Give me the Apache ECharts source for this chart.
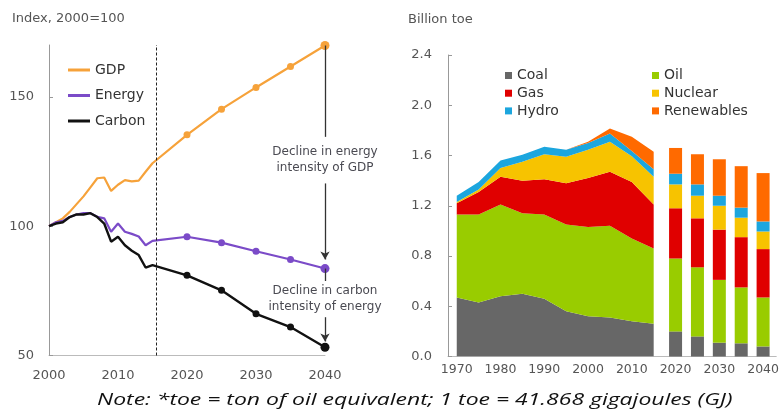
<!DOCTYPE html>
<html>
<head>
<meta charset="utf-8">
<script src="https://cdn.jsdelivr.net/npm/echarts@6/dist/echarts.min.js"></script>
<style>html,body{margin:0;padding:0;background:#fff;}#c{width:782px;height:414px;}</style>
</head>
<body>
<div id="c"></div>
<script>
// ---------- Left chart data (Index, 2000=100) ----------
const leftYears = [2000,2001,2002,2003,2004,2005,2006,2007,2008,2009,2010,2011,2012,2013,2014,2015,2020,2025,2030,2035,2040];
const gdp    = [100,101.5,103,105.5,108.5,111.5,115,118.5,118.8,113.6,116,117.8,117.3,117.6,121,124.3,135.3,145.2,153.6,161.7,169.8];
const energy = [100,101.5,102,103.5,104.5,105,105,103.6,103,97.8,101,97.8,97,96,92.6,94.3,95.9,93.6,90.3,87.1,83.6];
const carbon = [100,101,101.5,103.5,104.5,104.5,105,103.5,101,94,95.9,92.6,90.5,88.8,84,84.9,81,75.2,66.1,61,53.2];
const leftTicksY = [50,100,150];
const lineNames = ['GDP','Energy','Carbon'];
const annEnergyText = 'Decline in energy\nintensity of GDP';
const annCarbonText = 'Decline in carbon\nintensity of energy';

// ---------- Right chart data (Billion toe) ----------
const histYears = [1970,1975,1980,1985,1990,1995,2000,2005,2010,2015];
const projYears = [2020,2025,2030,2035,2040];
const fuels = ['Coal','Oil','Gas','Nuclear','Hydro','Renewables'];
const coalHist  = [0.47,0.43,0.48,0.50,0.46,0.36,0.32,0.31,0.28,0.26];
const oilHist   = [0.66,0.70,0.73,0.64,0.67,0.69,0.71,0.73,0.66,0.60];
const gasHist   = [0.09,0.18,0.22,0.26,0.28,0.33,0.39,0.43,0.45,0.35];
const nucHist   = [0.01,0.02,0.07,0.15,0.20,0.21,0.225,0.24,0.205,0.22];
const hydHist   = [0.05,0.06,0.06,0.055,0.06,0.055,0.055,0.065,0.04,0.06];
const renHist   = [0,0,0,0,0,0,0.01,0.04,0.115,0.14];
const coalProj  = [0.20,0.16,0.11,0.105,0.08];
const oilProj   = [0.58,0.55,0.50,0.445,0.39];
const gasProj   = [0.40,0.39,0.40,0.40,0.385];
const nucProj   = [0.19,0.18,0.19,0.155,0.14];
const hydProj   = [0.085,0.09,0.08,0.08,0.08];
const renProj   = [0.205,0.24,0.29,0.33,0.385];
const rightTicksX = [1970,1980,1990,2000,2010,2020,2030,2040];
const noteText = 'Note: *toe = ton of oil equivalent; 1 toe = 41.868 gigajoules (GJ)';

// ---------- Styling ----------
const FONT = 'DejaVu Sans';
const lineColors = {GDP:'#F6A23A', Energy:'#7B4BC8', Carbon:'#111111'};
const fuelColors = {Coal:'#676767', Oil:'#99CC00', Gas:'#E00000', Nuclear:'#F7C300', Hydro:'#1CA6DE', Renewables:'#FF6A00'};
const DIVIDER_YEAR = 2015.5;
const ANN_ENERGY_Y = 125.5, ANN_CARBON_Y = 71.8;

const zip = (xs, ys) => xs.map((x,i)=>[x, ys[i]]);
// value first, year second (so the stack is computed on the value dimension)
const zipVY = (xs, ys) => xs.map((x,i)=>[ys[i], x]);
const lastX = leftYears[leftYears.length-1];
const last = a => a[a.length-1];

function lineSeries(name, data, extra) {
  return Object.assign({
    type:'line', name, xAxisIndex:0, yAxisIndex:0,
    data: zip(leftYears, data),
    color: lineColors[name],
    itemStyle:{color: lineColors[name]},
    lineStyle:{width: name==='Carbon'?2.4:2.2, color: lineColors[name]},
    symbol:'circle', showAllSymbol:true,
    symbolSize: v => v[0] >= 2020 ? (v[0] === lastX ? 9 : 7) : 0,
    z: name==='GDP'?3:(name==='Energy'?4:5)
  }, extra||{});
}

const histData = {Coal:coalHist, Oil:oilHist, Gas:gasHist, Nuclear:nucHist, Hydro:hydHist, Renewables:renHist};
const projData = {Coal:coalProj, Oil:oilProj, Gas:gasProj, Nuclear:nucProj, Hydro:hydProj, Renewables:renProj};

const series = [
  lineSeries('GDP', gdp),
  lineSeries('Energy', energy, {
    markLine:{silent:true, symbol:['none','none'], label:{show:false}, animation:false,
      lineStyle:{type:[3,2], color:'#222', width:1},
      data:[{xAxis: DIVIDER_YEAR}]}
  }),
  lineSeries('Carbon', carbon, {
    markLine:{silent:true, symbol:['none','arrow'], symbolSize:[7,8], label:{show:false}, animation:false,
      lineStyle:{type:'solid', color:'#333', width:1.3},
      data:[
        [{coord:[lastX, last(gdp)], symbol:'none'}, {coord:[lastX, ANN_ENERGY_Y+9], symbol:'none'}],
        [{coord:[lastX, ANN_ENERGY_Y-9], symbol:'none'}, {coord:[lastX, last(energy)+3.5]}],
        [{coord:[lastX, last(energy)], symbol:'none'}, {coord:[lastX, ANN_CARBON_Y+7], symbol:'none'}],
        [{coord:[lastX, ANN_CARBON_Y-7], symbol:'none'}, {coord:[lastX, last(carbon)+2.2]}]
      ]},
    markPoint:{silent:true, symbol:'rect', symbolSize:1, itemStyle:{color:'rgba(0,0,0,0)'}, animation:false,
      label:{show:true, position:'inside', color:'#4a4a52', fontSize:12, lineHeight:16, fontFamily:FONT, align:'center'},
      data:[
        {coord:[lastX, ANN_ENERGY_Y], label:{formatter: annEnergyText}},
        {coord:[lastX, ANN_CARBON_Y], label:{formatter: annCarbonText}}
      ]}
  })
];

fuels.forEach(f => {
  series.push({
    type:'line', name:f, xAxisIndex:1, yAxisIndex:1, stack:'hist',
    data: zipVY(histYears, histData[f]), encode:{x:1, y:0},
    color: fuelColors[f], itemStyle:{color:fuelColors[f]},
    lineStyle:{width:0}, symbol:'none', showSymbol:false,
    areaStyle:{color:fuelColors[f], opacity:1}
  });
});
fuels.forEach(f => {
  series.push({
    type:'bar', name:f, xAxisIndex:1, yAxisIndex:1, stack:'proj',
    data: zipVY(projYears, projData[f]), encode:{x:1, y:0},
    barWidth:13, color: fuelColors[f], itemStyle:{color:fuelColors[f]}
  });
});

const axisLabelBase = {color:'#555', fontFamily:FONT};
const plain = v => String(v);

const option = {
  animation:false,
  title:[
    {text:'Index, 2000=100', left:12, top:12, padding:0, textStyle:{fontSize:13, fontWeight:'normal', color:'#555', fontFamily:FONT}},
    {text:'Billion toe', left:408, top:13, padding:0, textStyle:{fontSize:13, fontWeight:'normal', color:'#555', fontFamily:FONT}}
  ],
  graphic:[
    {type:'text', x:97, y:400, scaleX:1.35, silent:true,
     style:{text:noteText, fontSize:17, fontStyle:'italic', fontFamily:'Open Sans', fill:'#111', verticalAlign:'middle', align:'left'}}
  ],
  legend:[
    {data:lineNames, orient:'vertical', left:68, top:63, padding:0, icon:'rect', itemWidth:22, itemHeight:3, itemGap:11.5,
     textStyle:{fontSize:14, color:'#333', fontFamily:FONT}, selectedMode:false},
    {data:['Coal','Gas','Hydro'], orient:'vertical', left:505, top:68.5, padding:0, icon:'rect', itemWidth:7, itemHeight:7, itemGap:3.7,
     textStyle:{fontSize:14, color:'#333', fontFamily:FONT}, selectedMode:false},
    {data:['Oil','Nuclear','Renewables'], orient:'vertical', left:652, top:68.5, padding:0, icon:'rect', itemWidth:7, itemHeight:7, itemGap:3.7,
     textStyle:{fontSize:14, color:'#333', fontFamily:FONT}, selectedMode:false}
  ],
  grid:[
    {left:49, top:45, width:276, height:310.5},
    {left:448, top:55, width:330, height:301.5}
  ],
  xAxis:[
    {type:'value', gridIndex:0, min:2000, max:2040, interval:10,
     axisLine:{show:true, lineStyle:{color:'#bbb'}}, axisTick:{show:false}, splitLine:{show:false},
     axisLabel:Object.assign({fontSize:13, margin:14, formatter:plain}, axisLabelBase)},
    {type:'value', gridIndex:1, min:1968, max:2043,
     axisLine:{show:true, lineStyle:{color:'#bbb'}}, axisTick:{show:false}, splitLine:{show:false},
     axisLabel:Object.assign({fontSize:12.5, margin:7, customValues:rightTicksX, formatter:plain}, axisLabelBase)}
  ],
  yAxis:[
    {type:'value', gridIndex:0, min:50, max:170,
     axisLine:{show:true, lineStyle:{color:'#999'}}, axisTick:{show:true, inside:true, length:4, customValues:leftTicksY, lineStyle:{color:'#999'}},
     splitLine:{show:false},
     axisLabel:Object.assign({fontSize:13, margin:15, customValues:leftTicksY, formatter:plain}, axisLabelBase)},
    {type:'value', gridIndex:1, min:0, max:2.4, interval:0.4,
     axisLine:{show:true, lineStyle:{color:'#999'}}, axisTick:{show:true, inside:true, length:4, lineStyle:{color:'#999'}},
     splitLine:{show:false},
     axisLabel:Object.assign({fontSize:13, margin:16, formatter:v=>v.toFixed(1)}, axisLabelBase)}
  ],
  series
};

const chart = echarts.init(document.getElementById('c'), null, {renderer:'canvas'});
chart.setOption(option);
</script>
</body>
</html>
